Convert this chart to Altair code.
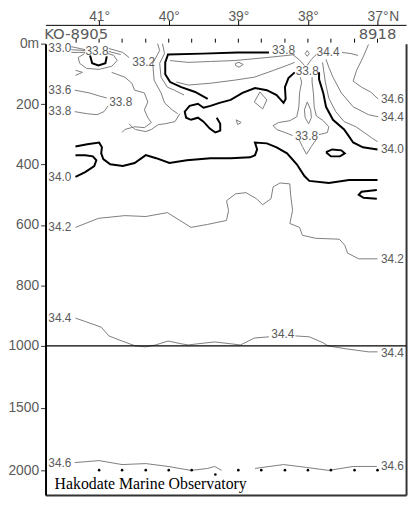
import altair as alt
import pandas as pd

# ---------------- axis values ----------------
LAT_TICKS = [41, 40, 39, 38, 37]
DEPTH_TICKS = [0, 200, 400, 600, 800, 1000, 1500, 2000]

# stations (KO-8905 ... 8918)
STATION_LAT = [41.33, 41.0, 40.67, 40.33, 40.0, 39.67, 39.33, 39.0, 38.67, 38.33, 38.0, 37.67, 37.33, 37.0]
STATION_NAME = ["KO-8905", "8918"]
STATION_NAME_LAT = [41.33, 37.0]
BOTTOM_LAT = [41.0, 40.67, 40.33, 40.0, 39.67, 39.33, 39.0, 38.67, 38.33, 38.0, 37.67, 37.33, 37.0]
BOTTOM_DEPTH = [2000, 2000, 2000, 2000, 2000, 2035, 2000, 2000, 2000, 2000, 2000, 2000, 2000]

# ---------------- contour lines (lat, depth m) ----------------
# thin contours
C342 = [(41.34, 608), (41.01, 578), (40.63, 569), (40.33, 572), (40.02, 559), (39.68, 608), (39.44, 598),
        (39.17, 585), (39.14, 552), (39.17, 520), (39.04, 497), (38.89, 493), (38.74, 513), (38.65, 533),
        (38.53, 513), (38.50, 474), (38.40, 461), (38.26, 464), (38.25, 497), (38.22, 552), (38.26, 595),
        (38.12, 608), (38.08, 634), (37.89, 644), (37.55, 647), (37.47, 667), (37.43, 693), (37.27, 712),
        (37.00, 712)]
C344_A = [(41.34, 908), (40.97, 938), (40.86, 967), (40.67, 984), (40.48, 1000), (40.33, 1008), (40.19, 997),
          (40.01, 984), (39.82, 993), (39.72, 997), (39.58, 993), (39.34, 987), (39.11, 993), (38.97, 997),
          (38.77, 974), (38.56, 970)]
C344_B = [(38.18, 967), (37.98, 970), (37.78, 990), (37.71, 1000), (37.45, 1024), (37.13, 1048), (37.00, 1048)]
C346_A = [(41.35, 1939), (41.00, 1923), (40.67, 1955), (40.33, 1947), (40.01, 1970), (39.68, 2002),
          (39.44, 1986), (39.34, 1970), (39.24, 2002)]
C346_B = [(38.76, 1986), (38.35, 1955), (38.02, 1978), (37.70, 2002), (37.35, 1970), (37.01, 1970)]

T1 = [(41.40, 10), (41.20, 20)]
T2 = [(41.40, 20), (41.20, 23)]
T3 = [(41.40, 29), (41.28, 29), (41.20, 29)]
T4 = [(40.86, 16), (40.66, 29), (40.57, 46)]
T4B = [(40.86, 26), (40.69, 36)]
T5 = [(40.87, 33), (40.79, 39), (40.74, 56), (40.82, 75), (41.00, 85), (41.18, 82), (41.28, 65), (41.30, 46),
      (41.21, 33)]
T6 = [(41.34, 88), (41.24, 95), (41.34, 105)]
T8 = [(40.82, 95), (40.63, 111), (40.53, 131), (40.49, 154), (40.35, 163), (40.30, 193), (40.35, 219),
      (40.30, 245), (40.25, 261), (40.35, 278), (40.49, 275), (40.63, 284), (40.67, 294)]
T9 = [(41.35, 154), (41.14, 163), (41.00, 173), (40.89, 180)]
T10 = [(41.35, 225), (41.17, 232), (41.03, 235), (40.93, 225), (40.87, 206)]
T11 = [(40.57, 265), (40.53, 275), (40.48, 284), (40.33, 291), (40.25, 284), (40.15, 268), (40.05, 265),
       (39.91, 258), (39.84, 232)]
T12 = [(40.16, 0), (40.13, 23), (40.23, 65), (40.21, 121), (40.11, 163), (40.06, 196), (39.95, 219), (39.87, 232)]
T13 = [(40.09, 0), (40.06, 33), (40.13, 65), (40.11, 111), (40.02, 144), (39.92, 154), (39.78, 170)]
T14 = [(39.98, 56), (39.72, 62), (39.40, 59), (39.06, 56), (38.59, 46), (38.30, 39), (38.19, 36)]
T15 = [(39.89, 127), (39.72, 137), (39.40, 131), (39.06, 121), (38.77, 111), (38.49, 88), (38.30, 72), (38.19, 62)]
T16 = [(39.04, 65), (38.99, 62), (38.93, 69), (38.99, 78), (39.04, 72), (39.04, 65)]
T17 = [(38.69, 160), (38.59, 186), (38.65, 216), (38.77, 193), (38.69, 160)]
T18 = [(39.03, 252), (38.96, 261), (39.01, 268), (39.03, 252)]
T19L = [(38.22, 304), (38.33, 294), (38.45, 284), (38.50, 271), (38.42, 261), (38.26, 255), (38.16, 242),
        (38.13, 209), (38.12, 163), (38.09, 127), (38.11, 111)]
T19R = [(37.84, 301), (37.72, 294), (37.70, 275), (37.78, 255), (37.88, 239), (37.91, 209), (37.92, 167),
        (37.94, 127), (37.94, 111)]
T20 = [(38.13, 317), (38.08, 340), (38.02, 366), (37.95, 340), (37.88, 317)]
T21 = [(38.01, 193), (37.96, 219), (37.95, 245), (37.99, 265), (38.04, 245), (38.05, 219), (38.01, 193)]
T22A = [(38.22, 36), (38.13, 52), (38.05, 72)]
T22B = [(37.88, 36), (37.95, 52), (38.01, 72)]
T22C = [(38.01, 23), (37.98, 33), (38.01, 42), (38.04, 33), (38.01, 23)]
T23 = [(37.13, 3), (37.21, 46), (37.30, 88), (37.35, 124), (37.23, 144), (37.10, 160), (36.99, 183)]
T24 = [(37.74, 52), (37.70, 78), (37.64, 111), (37.52, 163), (37.35, 209), (37.13, 235), (36.99, 242)]
T25 = [(37.51, 29), (37.38, 33), (37.28, 39)]
T26 = [(37.79, 62), (37.75, 127), (37.70, 180), (37.60, 225), (37.48, 258), (37.31, 275), (37.07, 314), (37.00, 324)]

# thick (34.0) contours
K_MAIN = [(41.34, 340), (41.17, 333), (41.00, 327), (40.96, 343), (40.97, 363), (40.94, 382), (40.84, 399),
          (40.66, 405), (40.49, 395), (40.33, 369), (40.18, 379), (39.99, 395), (39.74, 386), (39.40, 379),
          (39.11, 379), (38.83, 376), (38.76, 369), (38.73, 350), (38.76, 327), (38.59, 330), (38.45, 343),
          (38.30, 363), (38.16, 399), (38.05, 438), (37.98, 454), (37.70, 461), (37.41, 451), (37.00, 451)]
K_HOOK = [(41.34, 441), (41.20, 425), (41.07, 405), (41.04, 386), (41.09, 373), (41.20, 369), (41.34, 369)]
K_RU = [(37.01, 484), (37.23, 490), (37.27, 500), (37.20, 510), (37.01, 513)]
K_OVAL = [(37.74, 359), (37.65, 350), (37.52, 353), (37.47, 363), (37.54, 373), (37.67, 373), (37.74, 359)]
K_RIGHT = [(37.84, 95), (37.84, 118), (37.78, 163), (37.74, 209), (37.64, 252), (37.48, 284), (37.41, 307),
           (37.35, 327), (37.21, 343), (37.00, 350)]
K_U = [(41.13, 39), (41.10, 65), (41.01, 72), (40.91, 65), (40.89, 42)]
K_TOP = [(38.56, 29), (39.01, 29), (39.51, 33), (40.01, 36), (40.05, 62), (40.05, 101), (39.98, 127),
         (39.82, 144), (39.62, 160), (39.44, 183)]
K_MID = [(38.19, 95), (38.28, 114), (38.33, 144), (38.32, 183), (38.35, 196), (38.45, 170), (38.59, 154),
         (38.76, 147), (38.94, 163), (39.11, 186), (39.27, 196), (39.40, 206), (39.50, 212), (39.58, 199),
         (39.70, 206), (39.77, 225), (39.75, 245), (39.68, 252), (39.58, 245), (39.50, 258), (39.41, 281),
         (39.33, 294), (39.26, 288), (39.26, 265), (39.31, 245)]

THIN = {"c342": C342, "c344a": C344_A, "c344b": C344_B, "c346a": C346_A, "c346b": C346_B,
        "t1": T1, "t2": T2, "t3": T3, "t4": T4, "t4b": T4B, "t5": T5, "t6": T6, "t8": T8, "t9": T9,
        "t10": T10, "t11": T11, "t12": T12, "t13": T13, "t14": T14, "t15": T15, "t16": T16, "t17": T17,
        "t18": T18, "t19l": T19L, "t19r": T19R, "t20": T20, "t21": T21, "t22a": T22A, "t22b": T22B,
        "t22c": T22C, "t23": T23, "t24": T24, "t25": T25, "t26": T26}
THICK = {"kmain": K_MAIN, "khook": K_HOOK, "kru": K_RU, "koval": K_OVAL, "kright": K_RIGHT, "ku": K_U,
         "ktop": K_TOP, "kmid": K_MID}

# contour labels
LEFT_LABELS = ["33.0", "33.6", "33.8", "34.0", "34.2", "34.4", "34.6"]
LEFT_DEPTH = [16, 154, 222, 441, 608, 908, 1939]
RIGHT_LABELS = ["34.6", "34.4", "34.0", "34.2", "34.4", "34.6"]
RIGHT_DEPTH = [183, 242, 350, 712, 1056, 1970]
MID_LABELS = ["33.8", "33.2", "33.8", "33.8", "34.4", "33.8", "33.8", "34.4"]
MID_LAT = [41.03, 40.36, 40.69, 38.35, 37.71, 38.01, 38.02, 38.36]
MID_DEPTH = [23, 62, 193, 20, 29, 92, 307, 960]
LEFT_LAT = 41.73
RIGHT_LAT = 36.62

FOOTER = "Hakodate Marine Observatory"

# ---------------- build tables ----------------
rows = []
for name, pts in THIN.items():
    for i, (la, de) in enumerate(pts):
        rows.append({"seg": name, "w": "thin", "i": i, "lat": la, "depth": de})
for name, pts in THICK.items():
    for i, (la, de) in enumerate(pts):
        rows.append({"seg": name, "w": "thick", "i": i, "lat": la, "depth": de})
lines = pd.DataFrame(rows)

left_df = pd.DataFrame({"t": LEFT_LABELS, "lat": [LEFT_LAT] * len(LEFT_LABELS), "depth": LEFT_DEPTH})
right_df = pd.DataFrame({"t": RIGHT_LABELS, "lat": [RIGHT_LAT] * len(RIGHT_LABELS), "depth": RIGHT_DEPTH})
mid_df = pd.DataFrame({"t": MID_LABELS, "lat": MID_LAT, "depth": MID_DEPTH})
st_df = pd.DataFrame({"lat": STATION_LAT})
stname_df = pd.DataFrame({"t": STATION_NAME, "lat": STATION_NAME_LAT})
bot_df = pd.DataFrame({"lat": BOTTOM_LAT, "depth": BOTTOM_DEPTH})
rule_df = pd.DataFrame({"depth": [1000]})
foot_df = pd.DataFrame({"t": [FOOTER], "lat": [41.64], "depth": [2153]})
n_df = pd.DataFrame({"t": ["N"], "lat": [37.0]})

xs = alt.Scale(domain=[41.77, 36.59], nice=False, zero=False)
ys = alt.Scale(domain=[0, 1000, 2200], range=[0, 306, 457], nice=False, zero=False)

GRAY_TXT = "#5a5a5a"
SANS = "Liberation Sans"

top_axis = alt.Axis(orient="top", offset=19, values=LAT_TICKS, labelExpr="datum.value + '°'",
                    domainColor="black", domainWidth=1, tickColor="black", tickSize=5, tickWidth=1,
                    labelFont=SANS, labelFontSize=14, labelColor=GRAY_TXT, labelBaseline="alphabetic",
                    labelPadding=-1, grid=False, title=None, labelFlush=False)
left_axis = alt.Axis(orient="left", values=DEPTH_TICKS, format="d",
                     labelExpr="datum.value == 0 ? '0m' : datum.label",
                     domainColor="black", domainWidth=2, tickColor="#333", tickSize=5, tickWidth=1,
                     labelFont=SANS, labelFontSize=14, labelColor=GRAY_TXT, labelPadding=2,
                     grid=False, title=None, labelFlush=False)
bottom_axis = alt.Axis(orient="bottom", domainColor="#333", domainWidth=2, ticks=False, labels=False,
                       grid=False, title=None)
right_axis = alt.Axis(orient="right", domainColor="#333", domainWidth=2, ticks=False, labels=False,
                      grid=False, title=None)

base = alt.Chart(lines)
thin = base.transform_filter("datum.w == 'thin'").mark_line(color="#7d7d7d", strokeWidth=1).encode(
    x=alt.X("lat:Q", scale=xs, axis=top_axis),
    y=alt.Y("depth:Q", scale=ys, axis=left_axis),
    detail="seg:N", order="i:Q")
thick = base.transform_filter("datum.w == 'thick'").mark_line(color="black", strokeWidth=2).encode(
    x=alt.X("lat:Q", scale=xs, axis=bottom_axis),
    y=alt.Y("depth:Q", scale=ys, axis=right_axis),
    detail="seg:N", order="i:Q")

rule1000 = alt.Chart(rule_df).mark_rule(color="black", strokeWidth=1.5).encode(
    y=alt.Y("depth:Q", scale=ys, axis=None))

lbl_style = dict(font=SANS, fontSize=12, color=GRAY_TXT, baseline="middle")
left_txt = alt.Chart(left_df).mark_text(align="left", **lbl_style).encode(
    x=alt.X("lat:Q", scale=xs, axis=None), y=alt.Y("depth:Q", scale=ys, axis=None), text="t:N")
right_txt = alt.Chart(right_df).mark_text(align="right", **lbl_style).encode(
    x=alt.X("lat:Q", scale=xs, axis=None), y=alt.Y("depth:Q", scale=ys, axis=None), text="t:N")
mid_txt = alt.Chart(mid_df).mark_text(align="center", **lbl_style).encode(
    x=alt.X("lat:Q", scale=xs, axis=None), y=alt.Y("depth:Q", scale=ys, axis=None), text="t:N")

st_ticks = alt.Chart(st_df).mark_rule(color="black", strokeWidth=1).encode(
    x=alt.X("lat:Q", scale=xs, axis=None), y=alt.value(-5), y2=alt.value(-1))
st_names = alt.Chart(stname_df).mark_text(font="DejaVu Sans", fontSize=15, color=GRAY_TXT,
                                          baseline="alphabetic", align="center").encode(
    x=alt.X("lat:Q", scale=xs, axis=None), y=alt.value(-5), text="t:N")
n_txt = alt.Chart(n_df).mark_text(font=SANS, fontSize=14, color=GRAY_TXT, baseline="alphabetic",
                                  align="left", dx=12).encode(
    x=alt.X("lat:Q", scale=xs, axis=None), y=alt.value(-23), text="t:N")

dots = alt.Chart(bot_df).mark_circle(color="black", size=7, opacity=1).encode(
    x=alt.X("lat:Q", scale=xs, axis=None), y=alt.Y("depth:Q", scale=ys, axis=None))

footer = alt.Chart(foot_df).mark_text(font="Liberation Serif", fontSize=16, color="black",
                                      align="left", baseline="alphabetic").encode(
    x=alt.X("lat:Q", scale=xs, axis=None), y=alt.Y("depth:Q", scale=ys, axis=None), text="t:N")

chart = alt.layer(thin, thick, rule1000, left_txt, right_txt, mid_txt, st_ticks, st_names, n_txt,
                  dots, footer).resolve_axis(x="independent", y="independent").properties(
    width=365, height=457,
    autosize=alt.AutoSizeParams(type="none"),
    padding={"left": 38, "top": 33, "right": 4, "bottom": 6},
    background="white",
).configure_view(stroke=None)

chart.save("out.html", embed_options={"renderer": "svg", "actions": False})
